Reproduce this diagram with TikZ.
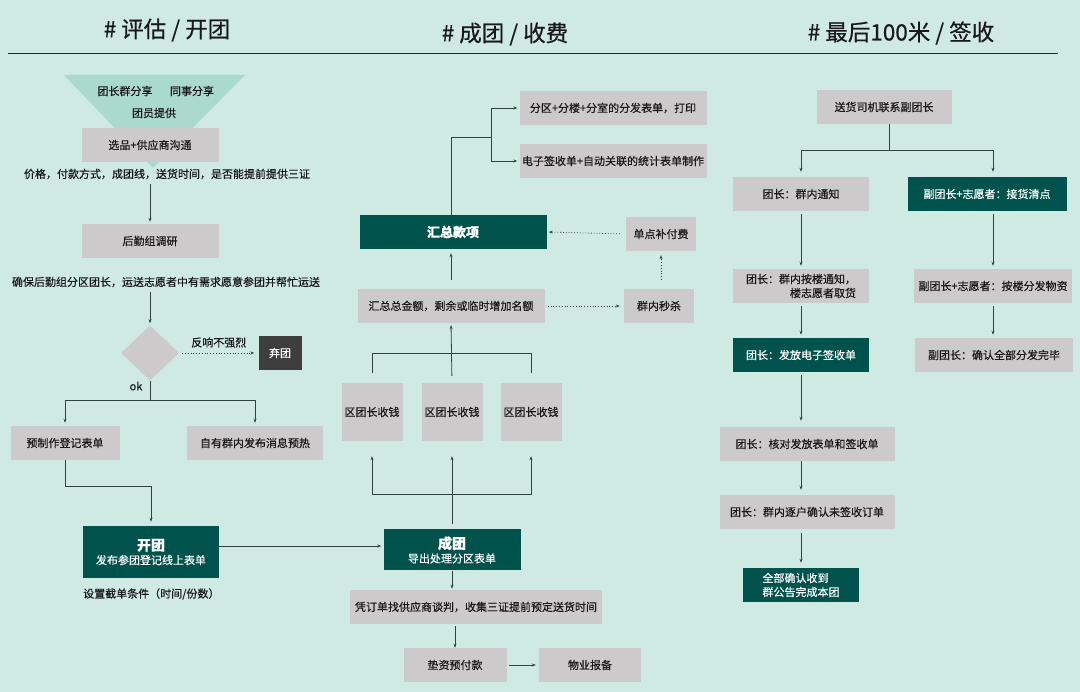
\documentclass[tikz,border=0pt]{standalone}
\usepackage{xcolor}
\usepackage{fontspec}
\setmainfont{Noto Sans CJK SC}[FakeBold=0.5]
\usetikzlibrary{arrows.meta,shapes.geometric}
\definecolor{bgmint}{RGB}{207, 233, 227}
\definecolor{boxgray}{RGB}{204, 202, 202}
\definecolor{deepgreen}{RGB}{0, 82, 76}
\definecolor{funnelgreen}{RGB}{170, 217, 205}
\definecolor{linegray}{RGB}{45, 68, 64}
\definecolor{quitgray}{RGB}{62, 62, 62}
\definecolor{inkblack}{RGB}{25, 25, 25}

\tikzset{
  graybox/.style={fill=boxgray, text=inkblack, minimum height=34pt, inner sep=0pt},
  greenbox/.style={fill=deepgreen, text=white, minimum height=34pt, inner sep=0pt},
  plain/.style={text=inkblack, inner sep=1pt},
  arr/.style={draw=linegray, line width=0.8pt, -{Stealth[length=4pt,width=3pt]}},
  dotarr/.style={arr, dotted},
  link/.style={draw=linegray, line width=0.8pt},
}

\begin{document}
\begin{tikzpicture}[x=1pt, y=-1pt, font=\fontsize{11pt}{14pt}\selectfont]
        \fill[bgmint] (0,0) rectangle (1080,692);
        \useasboundingbox (0,0) rectangle (1080,692);

        \node[plain, font=\fontsize{22.5pt}{26pt}\selectfont] (headA) at (167,30) {\# 评估 / 开团};
        \node[plain, font=\fontsize{22.5pt}{26pt}\selectfont] (headB) at (505,34) {\# 成团 / 收费};
        \node[plain, font=\fontsize{22.5pt}{26pt}\selectfont] (headC) at (901,33) {\# 最后100米 / 签收};
        \draw[deepgreen!70!black, line width=1pt] (8,54) -- (1058,54);

        % evaluate / open
        \fill[funnelgreen] (64,75) -- (245,75) -- (153,168) -- cycle;
        \node[plain] (shareA) at (125,91) {团长群分享};
        \node[plain] (shareB) at (192,91) {同事分享};
        \node[plain] (shareC) at (154,113) {团员提供};
        \node[graybox, minimum width=137pt] (pick) at (150,145) {选品+供应商沟通};
        \node[plain] (price) at (167,174) {价格，付款方式，成团线，送货时间，是否能提前提供三证};
        \node[graybox, minimum width=137pt] (research) at (150,241) {后勤组调研};
        \node[plain] (ensure) at (166,282) {确保后勤组分区团长，运送志愿者中有需求愿意参团并帮忙运送};
        \node[diamond, fill=boxgray, minimum width=58pt, minimum height=55pt, inner sep=0pt] (decide) at (150,353) {};
        \node[fill=quitgray, text=white, minimum width=43pt, minimum height=34pt, inner sep=0pt] (quit) at (280,353) {弃团};
        \node[plain] (okay) at (136,386) {ok};
        \node[graybox, minimum width=109pt] (prep) at (65,443) {预制作登记表单};
        \node[graybox, minimum width=136pt] (warm) at (255,443) {自有群内发布消息预热};
        \node[greenbox, minimum width=136pt, minimum height=52pt, align=center] (open) at (151,552)
          {{\fontsize{14pt}{17pt}\selectfont\bfseries 开团}\\发布参团登记线上表单};
        \node[plain, anchor=west] (cutoff) at (82,594) {设置截单条件（时间/份数）};
        \coordinate (split) at (150,400);

        \draw[arr, shorten <=4pt, shorten >=2pt] (price.south -| research.north) -- (research.north);
        \draw[arr, shorten <=4pt, shorten >=2pt] (ensure.south -| decide.north) -- (decide.north);
        \draw[dotarr, shorten <=3pt, shorten >=4pt] (decide.east) -- node[plain, above=4pt] {反响不强烈} (quit.west);
        \draw[link] (decide.south) -- (split);
        \draw[arr, shorten >=3pt] (split) -| (prep.north);
        \draw[arr, shorten >=3pt] (split) -| (warm.north);
        \draw[arr, shorten >=4pt] (prep.south) -- ++(0,26) -| (open.north);

        % form / collect
        \node[greenbox, minimum width=137pt, minimum height=41pt, align=center] (form) at (452,550)
          {{\fontsize{14pt}{16pt}\selectfont\bfseries 成团}\\导出处理分区表单};
        \node[graybox, minimum width=61pt, minimum height=58pt] (collectA) at (372,412) {区团长收钱};
        \node[graybox, minimum width=61pt, minimum height=58pt] (collectB) at (452,412) {区团长收钱};
        \node[graybox, minimum width=61pt, minimum height=58pt] (collectC) at (531,412) {区团长收钱};
        \node[graybox, minimum width=187pt] (total) at (451,306) {汇总总金额，剩余或临时增加名额};
        \node[greenbox, minimum width=187pt, font=\fontsize{13pt}{16pt}\selectfont\bfseries] (sum) at (453,232) {汇总款项};
        \node[graybox, minimum width=70pt] (flash) at (659,306) {群内秒杀};
        \node[graybox, minimum width=70pt] (topup) at (661,234) {单点补付费};
        \node[graybox, minimum width=187pt] (print) at (613,108) {分区+分楼+分室的分发表单，打印};
        \node[graybox, minimum width=187pt] (esign) at (613,161) {电子签收单+自动关联的统计表单制作};
        \node[graybox, minimum width=252pt] (quote) at (476,607) {凭订单找供应商谈判，收集三证提前预定送货时间};
        \node[graybox, minimum width=103pt] (prepay) at (455,665) {垫资预付款};
        \node[graybox, minimum width=102pt] (notify) at (590,665) {物业报备};
        \coordinate (fanout) at (452,494);
        \coordinate (merge) at (452,353);
        \coordinate (branch) at (491,137);

        \draw[arr, shorten >=2pt] (open.east |- 0,546) -- (form.west |- 0,546);
        \draw[link, shorten <=5pt] (form.north) -- (fanout);
        \draw[arr, shorten >=15pt] (fanout) -| (collectA.south);
        \draw[arr, shorten >=15pt] (fanout) -- (collectB.south);
        \draw[arr, shorten >=15pt] (fanout) -| (collectC.south);
        \draw[link, shorten <=10pt] (collectA.north) |- (merge);
        \draw[link, shorten <=10pt] (collectC.north) |- (merge);
        \draw[arr, shorten <=7pt, shorten >=2pt] (collectB.north) -- (total.south);
        \draw[arr, shorten <=9pt, shorten >=4pt] (total.north) -- (total.north |- sum.south);
        \draw[dotarr, shorten <=3pt, shorten >=4pt] (total.east) -- (flash.west);
        \draw[dotarr, shorten <=9pt, shorten >=4pt] (flash.north -| topup.south) -- (topup.south);
        \draw[dotarr, shorten <=6pt, shorten >=2pt] (topup.west) -- (sum.east);
        \draw[link] (total.north |- sum.north) |- (branch);
        \draw[arr, shorten >=2pt] (branch) |- (print.west);
        \draw[arr, shorten >=2pt] (branch) |- (esign.west);
        \draw[arr, shorten >=1pt] (form.south) -- (form.south |- quote.north);
        \draw[arr, shorten <=2pt] (prepay.north |- quote.south) -- (prepay.north);
        \draw[arr, shorten <=2pt, shorten >=3pt] (prepay.east) -- (notify.west);

        % last 100 m
        \node[graybox, minimum width=135pt] (driver) at (884,107) {送货司机联系副团长};
        \node[graybox, minimum width=136pt] (notice) at (801,194) {团长：群内通知};
        \node[greenbox, minimum width=159pt] (receive) at (987,194) {副团长+志愿者：接货清点};
        \node[graybox, minimum width=136pt, align=right] (floor) at (801,286) {团长：群内按楼通知，\\楼志愿者取货};
        \node[graybox, minimum width=158pt] (dispatch) at (993,286) {副团长+志愿者：按楼分发物资};
        \node[greenbox, minimum width=136pt] (esend) at (801,355) {团长：发放电子签收单};
        \node[graybox, minimum width=158pt] (done) at (994,355) {副团长：确认全部分发完毕};
        \node[graybox, minimum width=175pt] (check) at (807,444) {团长：核对发放表单和签收单};
        \node[graybox, minimum width=175pt] (verify) at (807,512) {团长：群内逐户确认未签收订单};
        \node[greenbox, minimum width=116pt, align=left] (finish) at (801,585) {全部确认收到\\群公告完成本团};
        \coordinate (fork) at (889,150);

        \draw[link] (driver.south -| fork) -- (fork);
        \draw[arr, shorten >=5pt] (fork) -| (notice.north);
        \draw[arr, shorten >=5pt] (fork) -| (dispatch.north |- receive.north);
        \draw[arr, shorten <=3pt, shorten >=3pt] (notice.south) -- (floor.north);
        \draw[arr, shorten <=3pt, shorten >=3pt] (dispatch.north |- receive.south) -- (dispatch.north);
        \draw[arr, shorten <=3pt, shorten >=3pt] (floor.south) -- (esend.north);
        \draw[arr, shorten <=3pt, shorten >=3pt] (dispatch.south) -- (dispatch.south |- done.north);
        \draw[arr, shorten <=3pt, shorten >=6pt] (esend.south) -- (esend.south |- check.north);
        \draw[arr, shorten >=5pt] (esend.south |- check.south) -- (esend.south |- verify.north);
        \draw[arr, shorten <=4pt, shorten >=5pt] (finish.north |- verify.south) -- (finish.north);
      \end{tikzpicture}
\end{document}
